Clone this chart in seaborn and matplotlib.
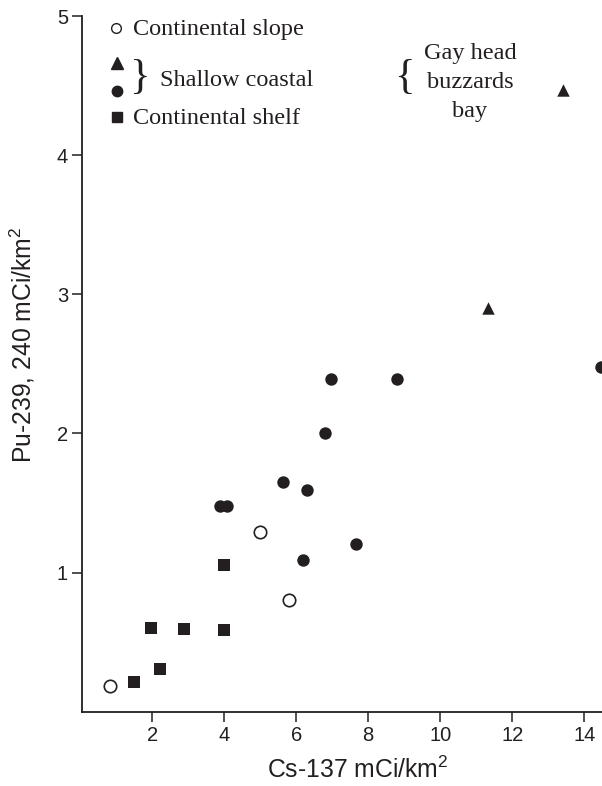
import matplotlib
matplotlib.use("Agg")
import matplotlib.pyplot as plt
import seaborn as sns
import pandas as pd
from matplotlib.lines import Line2D

# ---- data ----
slope_x = [0.82, 5.00, 5.80]
slope_y = [0.185, 1.29, 0.80]

shelf_x = [1.49, 2.23, 1.96, 2.88, 3.99, 3.99]
shelf_y = [0.216, 0.305, 0.604, 0.597, 0.587, 1.057]

coastal_circ_x = [3.88, 4.09, 5.64, 6.31, 6.18, 7.65, 6.79, 6.98, 8.79, 14.46]
coastal_circ_y = [1.479, 1.479, 1.649, 1.594, 1.093, 1.206, 2.001, 2.392, 2.390, 2.480]

coastal_tri_x = [11.32, 13.42]
coastal_tri_y = [2.90, 4.47]

x_ticks = [2, 4, 6, 8, 10, 12, 14]
y_ticks = [1, 2, 3, 4, 5]

x_label = "Cs-137 mCi/km$^2$"
y_label = "Pu-239, 240 mCi/km$^2$"

legend_labels = ["Continental slope", "Shallow coastal", "Continental shelf"]
note_label = "Gay head\nbuzzards\nbay"

INK = "#231f20"

sns.set_theme(style="white")
plt.rcParams["font.family"] = ["Liberation Sans", "DejaVu Sans"]
plt.rcParams["mathtext.fontset"] = "custom"
plt.rcParams["mathtext.rm"] = "Liberation Sans"
plt.rcParams["mathtext.it"] = "Liberation Sans"

fig = plt.figure(figsize=(6.02, 7.86), dpi=100)
W, H = 602, 786
left_px, right_px, bottom_px, top_px = 82, 602, 711.7, 16
ax = fig.add_axes([left_px / W, (H - bottom_px) / H, (right_px - left_px) / W, (bottom_px - top_px) / H])

df_slope = pd.DataFrame({"x": slope_x, "y": slope_y})
df_shelf = pd.DataFrame({"x": shelf_x, "y": shelf_y})
df_circ = pd.DataFrame({"x": coastal_circ_x, "y": coastal_circ_y})
df_tri = pd.DataFrame({"x": coastal_tri_x, "y": coastal_tri_y})

sns.scatterplot(data=df_slope, x="x", y="y", ax=ax, marker="o", s=80,
                facecolor="white", edgecolor=INK, linewidth=1.2, clip_on=True)
sns.scatterplot(data=df_shelf, x="x", y="y", ax=ax, marker="s", s=75,
                color=INK, edgecolor=INK, linewidth=0)
sns.scatterplot(data=df_circ, x="x", y="y", ax=ax, marker="o", s=80,
                color=INK, edgecolor=INK, linewidth=0)
sns.scatterplot(data=df_tri, x="x", y="y", ax=ax, marker="^", s=80,
                color=INK, edgecolor=INK, linewidth=0)

ax.set_xlim(0.05, 0.05 + 520 / 36.0)
ax.set_ylim(0, 5)
ax.set_xticks(x_ticks)
ax.set_yticks(y_ticks)
ax.set_xticklabels([str(t) for t in x_ticks])
ax.set_yticklabels([str(t) for t in y_ticks])

for side in ["top", "right"]:
    ax.spines[side].set_visible(False)
for side in ["left", "bottom"]:
    ax.spines[side].set_color(INK)
    ax.spines[side].set_linewidth(1.3)

ax.tick_params(axis="both", direction="out", length=7, width=1.1, color=INK,
               labelsize=14.5, labelcolor=INK, pad=3, bottom=True, left=True)
ax.set_xlabel(x_label, fontsize=17.8, color=INK)
ax.set_ylabel(y_label, fontsize=17.8, color=INK)
ax.xaxis.set_label_coords(0.531, -0.064)
ax.yaxis.set_label_coords(-0.086, 0.527)

# ---- legend (figure pixel coordinates from top) ----
def fy(py):
    return (H - py) / H

def fx(px):
    return px / W

serif = ["Liberation Serif", "DejaVu Serif"]
fs_leg = 17.5

fig.add_artist(Line2D([fx(116)], [fy(28)], marker="o", markersize=7, markerfacecolor="white",
                      markeredgecolor=INK, markeredgewidth=1.0, linestyle="none", transform=fig.transFigure))
fig.text(fx(133), fy(29), legend_labels[0], family=serif, fontsize=fs_leg, color=INK, va="center", ha="left")

fig.add_artist(Line2D([fx(116.5)], [fy(63)], marker="^", markersize=8, color=INK,
                      linestyle="none", transform=fig.transFigure))
fig.add_artist(Line2D([fx(116.5)], [fy(91)], marker="o", markersize=7.5, color=INK,
                      linestyle="none", transform=fig.transFigure))
fig.text(fx(139), fy(78), "}", family=serif, fontsize=31, color=INK, va="center", ha="center")
fig.text(fx(160), fy(80), legend_labels[1], family=serif, fontsize=fs_leg, color=INK, va="center", ha="left")

fig.add_artist(Line2D([fx(116.5)], [fy(117)], marker="s", markersize=7, color=INK,
                      linestyle="none", transform=fig.transFigure))
fig.text(fx(133), fy(118), legend_labels[2], family=serif, fontsize=fs_leg, color=INK, va="center", ha="left")

fig.text(fx(404), fy(78), "{", family=serif, fontsize=31, color=INK, va="center", ha="center")
fig.text(fx(470), fy(82), note_label, family=serif, fontsize=fs_leg, color=INK, va="center",
         ha="center", multialignment="center", linespacing=1.5)

fig.savefig("out.png", dpi=100)
